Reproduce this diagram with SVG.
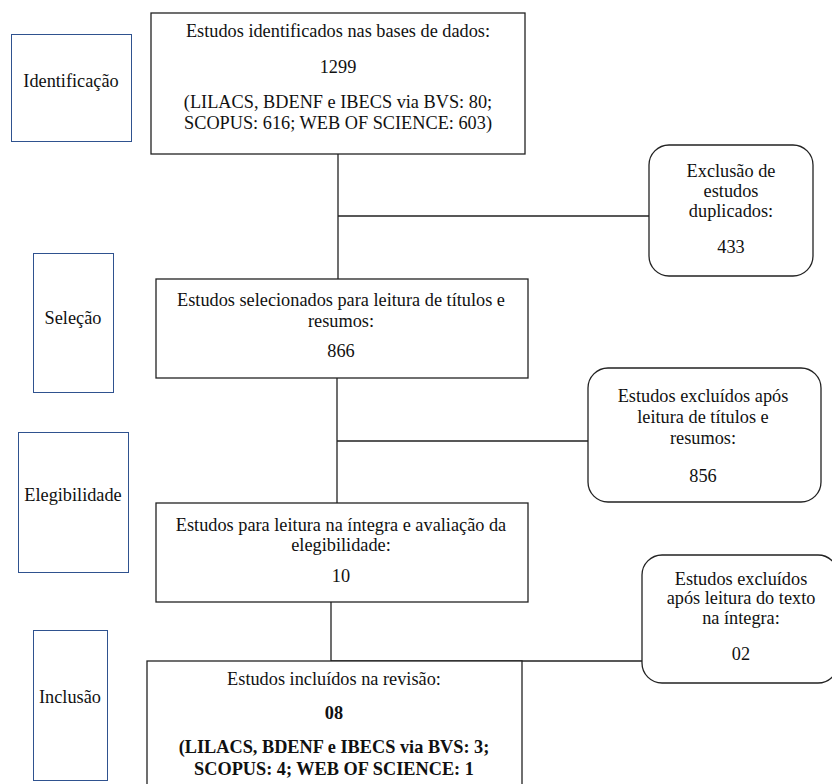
<svg xmlns="http://www.w3.org/2000/svg" width="832" height="784" viewBox="0 0 832 784">
<style>
text{font-family:"Liberation Serif","Times New Roman",serif;font-size:18.3px;fill:#111;text-anchor:middle}
.b{font-weight:bold}
.lab{fill:#fff;stroke:#2F528F;stroke-width:1}
.box{fill:#fff;stroke:#222;stroke-width:1.3}
.con{fill:none;stroke:#222;stroke-width:1.3}
</style>
<rect width="832" height="784" fill="#fff"/>
<g id="connectors">
<path class="con" d="M338,154V279M338,216H649"/>
<path class="con" d="M337,378V503M337,441H588"/>
<path class="con" d="M331,602V661M331,661H642"/>
</g>
<g id="lab-identificacao">
<rect class="lab" x="11.5" y="34.5" width="120" height="107"/>
<text x="71" y="87">Identificação</text>
</g>
<g id="lab-selecao">
<rect class="lab" x="33.5" y="253.5" width="80" height="139"/>
<text x="73" y="324">Seleção</text>
</g>
<g id="lab-elegibilidade">
<rect class="lab" x="18.5" y="432.5" width="110" height="140"/>
<text x="73" y="501">Elegibilidade</text>
</g>
<g id="lab-inclusao">
<rect class="lab" x="33.5" y="630.5" width="74" height="150"/>
<text x="70" y="703">Inclusão</text>
</g>
<g id="n-identificados">
<rect class="box" x="151" y="13" width="374" height="141"/>
<text x="338" y="37">Estudos identificados nas bases de dados:</text>
<text x="338" y="73">1299</text>
<text x="338" y="108">(LILACS, BDENF e IBECS via BVS: 80;</text>
<text x="338" y="129">SCOPUS: 616; WEB OF SCIENCE: 603)</text>
</g>
<g id="n-duplicados">
<rect class="box" x="649" y="145" width="164" height="131" rx="20"/>
<text x="731" y="177">Exclusão de</text>
<text x="731" y="197">estudos</text>
<text x="731" y="217">duplicados:</text>
<text x="731" y="253">433</text>
</g>
<g id="n-selecionados">
<rect class="box" x="156" y="279" width="372" height="99"/>
<text x="341" y="306">Estudos selecionados para leitura de títulos e</text>
<text x="341" y="327">resumos:</text>
<text x="341" y="357">866</text>
</g>
<g id="n-excluidos1">
<rect class="box" x="588" y="368" width="233" height="134" rx="20"/>
<text x="703" y="402">Estudos excluídos após</text>
<text x="703" y="423">leitura de títulos e</text>
<text x="703" y="444">resumos:</text>
<text x="703" y="482">856</text>
</g>
<g id="n-integra">
<rect class="box" x="156" y="503" width="372" height="99"/>
<text x="341" y="531">Estudos para leitura na íntegra e avaliação da</text>
<text x="341" y="551">elegibilidade:</text>
<text x="341" y="582">10</text>
</g>
<g id="n-excluidos2">
<rect class="box" x="642" y="555" width="196" height="128" rx="20"/>
<text x="741" y="585">Estudos excluídos</text>
<text x="741" y="604">após leitura do texto</text>
<text x="741" y="624">na íntegra:</text>
<text x="741" y="660">02</text>
</g>
<g id="n-incluidos">
<rect class="box" x="147" y="661" width="375" height="140"/>
<text x="334" y="685">Estudos incluídos na revisão:</text>
<text class="b" x="334" y="719">08</text>
<text class="b" x="334" y="753">(LILACS, BDENF e IBECS via BVS: 3;</text>
<text class="b" x="334" y="775">SCOPUS: 4; WEB OF SCIENCE: 1</text>
</g>
</svg>
